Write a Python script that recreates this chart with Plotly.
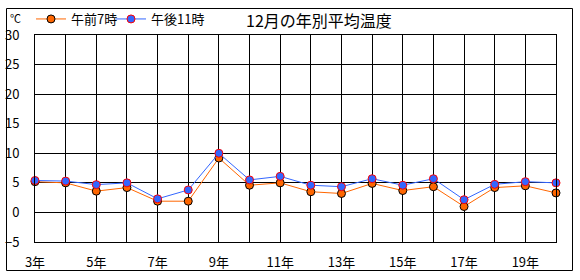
import plotly.graph_objects as go

years = list(range(3, 21))
year_labels = [f"{y}年" for y in years]
am7 = [5.2, 5.0, 3.6, 4.2, 1.9, 1.9, 9.2, 4.6, 5.0, 3.5, 3.2, 4.9, 3.7, 4.35, 1.0, 4.2, 4.5, 3.3]
pm11 = [5.4, 5.3, 4.7, 5.0, 2.3, 3.8, 10.0, 5.5, 6.1, 4.6, 4.35, 5.7, 4.6, 5.7, 2.15, 4.75, 5.2, 5.0]
series_names = ["午前7時", "午後11時"]
title_text = "12月の年別平均温度"
unit_text = "℃"

FONT = "Noto Sans CJK JP"
W, H = 580, 280
L, R, T, B = 35, 24, 35, 38
pw, ph = W - L - R, H - T - B

def px2paper_x(px):
    return (px - L) / pw

def py2paper_y(py):
    return (H - B - py) / ph

fig = go.Figure()
fig.add_trace(go.Scatter(
    x=years, y=am7, name=series_names[0], mode="lines+markers",
    line=dict(color="#ff6600", width=1),
    marker=dict(size=8, color="#ff6600", line=dict(color="black", width=1)),
    cliponaxis=False, legend="legend",
))
fig.add_trace(go.Scatter(
    x=years, y=pm11, name=series_names[1], mode="lines+markers",
    line=dict(color="#3366ff", width=1),
    marker=dict(size=8, color="#3366ff", line=dict(color="red", width=1)),
    cliponaxis=False, legend="legend2",
))

legend_common = dict(orientation="h", xanchor="left", y=py2paper_y(19), yanchor="middle",
                     font=dict(family=FONT, size=13), bgcolor="rgba(0,0,0,0)",
                     itemwidth=30, tracegroupgap=0)

odd_years = years[::2]
fig.update_layout(
    width=W, height=H,
    margin=dict(l=L, r=R, t=T, b=B, pad=0, autoexpand=False),
    paper_bgcolor="white", plot_bgcolor="white",
    font=dict(family=FONT, size=12, color="black"),
    showlegend=True,
    legend=dict(x=px2paper_x(31), **legend_common),
    legend2=dict(x=px2paper_x(111), **legend_common),
    xaxis=dict(range=[years[0], years[-1]], tickvals=odd_years,
               ticktext=[year_labels[years.index(y)] for y in odd_years],
               showgrid=True, gridcolor="black", gridwidth=1,
               minor=dict(dtick=1, tick0=years[0], showgrid=True, gridcolor="black", gridwidth=1),
               showline=True, linecolor="black", linewidth=1, mirror=True,
               ticks="", ticklabelstandoff=8, zeroline=False,
               tickfont=dict(family=FONT, size=13)),
    yaxis=dict(range=[-5, 30], dtick=5, tick0=0,
               showgrid=True, gridcolor="black", gridwidth=1,
               showline=True, linecolor="black", linewidth=1, mirror=True,
               ticks="", ticklabelstandoff=12, zeroline=False,
               tickfont=dict(family=FONT, size=13)),
    shapes=[dict(type="rect", xref="paper", yref="paper",
                 x0=px2paper_x(6.5), x1=px2paper_x(572.5),
                 y0=py2paper_y(270.5), y1=py2paper_y(8.5),
                 line=dict(color="black", width=1), fillcolor="rgba(0,0,0,0)", layer="below")],
    annotations=[
        dict(text=title_text, xref="paper", yref="paper", x=px2paper_x(319), y=py2paper_y(20),
             xanchor="center", yanchor="middle", showarrow=False,
             font=dict(family=FONT, size=16)),
        dict(text=unit_text, xref="paper", yref="paper", x=px2paper_x(8), y=py2paper_y(18),
             xanchor="left", yanchor="middle", showarrow=False,
             font=dict(family=FONT, size=11)),
    ],
)

fig.write_html("out.html")
